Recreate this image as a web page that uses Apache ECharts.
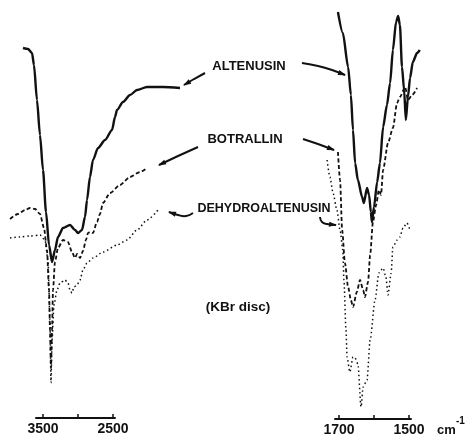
<!DOCTYPE html>
<html>
<head>
<meta charset="utf-8">
<script src="https://cdn.jsdelivr.net/npm/echarts@6/dist/echarts.min.js"></script>
<style>
html,body{margin:0;padding:0;background:#fff;}
#chart{width:466px;height:437px;}
</style>
</head>
<body>
<div id="chart"></div>
<script>
// ---- data: [wavenumber (cm-1, on drawn axis scale), relative transmittance] ----
const altenusinLeft = [[3786,92.5],[3714,92.25],[3657,91.25],[3629,88.25],[3586,79.5],[3543,70.75],[3500,62],[3457,51.5],[3414,43.25],[3371,39],[3329,42],[3286,45.25],[3214,47.5],[3114,48.25],[3043,47],[3000,46.25],[2943,47],[2900,50.25],[2871,54.5],[2829,60.25],[2786,64.5],[2714,67.5],[2614,69.5],[2514,72],[2471,75.25],[2443,77],[2357,79],[2257,80.75],[2157,82],[2014,82.75],[1786,82.75],[1543,82.5]];
const botrallinLeft = [[3971,49.75],[3857,51],[3757,52],[3686,52.5],[3614,52.25],[3543,51],[3486,47.5],[3443,42],[3414,32],[3400,22],[3386,12.5],[3371,22],[3357,32],[3329,39],[3286,42.5],[3214,44.5],[3143,44],[3086,41.5],[3043,40],[3014,41],[2971,40],[2929,41.75],[2886,44.5],[2857,46.25],[2829,46.5],[2786,46.25],[2729,49],[2686,51],[2643,53.75],[2543,56.25],[2400,58.25],[2257,60.25],[2114,61.5],[2014,62.5]];
const dehydroLeft = [[3971,45],[3829,45.25],[3686,45.5],[3543,45.75],[3471,44.5],[3429,39.5],[3400,24.5],[3386,8.75],[3371,19.5],[3343,28.25],[3300,32],[3257,33.75],[3186,34.5],[3143,33.75],[3114,32],[3086,31.25],[3057,32.75],[3014,33.25],[2971,34.5],[2929,37],[2871,38.75],[2786,40],[2643,41.5],[2443,43.25],[2300,44.5],[2157,47],[2014,49.5],[1857,52]];

const altenusinRight = [[1703,102],[1689,96.75],[1674,88.25],[1666,81.25],[1660,72.5],[1654,64.25],[1646,60],[1634,55.75],[1629,54.25],[1620,58],[1614,56.25],[1609,52],[1606,49.5],[1600,53.25],[1591,59.5],[1583,64.25],[1574,73.25],[1563,78.75],[1554,84.25],[1546,92.5],[1537,99.5],[1531,101],[1526,98.75],[1520,88.25],[1514,82.5],[1509,75],[1503,80.75],[1497,85.5],[1489,89.5],[1477,91.75],[1469,92.5]];
const botrallinRight = [[1703,67],[1697,60],[1691,47.5],[1683,39.25],[1674,33.25],[1666,30],[1660,28.25],[1649,32],[1640,35],[1631,32.5],[1626,30.75],[1617,34.5],[1611,41.25],[1603,49.5],[1594,53.75],[1586,57.5],[1580,56.25],[1574,62.5],[1560,69.25],[1546,73],[1534,79.25],[1526,80.75],[1511,83.25],[1503,80],[1491,81.25],[1477,83]];
const dehydroRight = [[1734,65],[1726,60.75],[1717,56.75],[1706,52.5],[1697,47.5],[1689,42.5],[1686,35],[1680,22.5],[1677,15.75],[1669,12],[1660,15.75],[1654,15.5],[1646,14],[1637,3.25],[1631,8.25],[1620,10],[1611,20],[1597,30],[1586,36.75],[1574,38],[1566,35.75],[1560,31.25],[1551,36.75],[1546,43.25],[1534,45],[1526,45.75],[1517,48],[1506,49.25],[1497,47.5]];

const leftTicks = [3500, 3000, 2500];
const leftLabels = [3500, 2500];
const rightTicks = [1700, 1600, 1500];
const rightLabels = [1700, 1500];

const compoundNames = ['ALTENUSIN', 'BOTRALLIN', 'DEHYDROALTENUSIN'];
const noteText = '(KBr disc)';
const unitText = 'cm';
const unitSup = '-1';

// ---- chart ----
const chart = echarts.init(document.getElementById('chart'), null, {renderer: 'canvas'});
const INK = '#111';
const FONT = '"Liberation Sans", Arial, sans-serif';

// scales: left panel 70 px per 1000 cm-1 (3500 at x=43), right panel 35 px per 100 cm-1 (1700 at x=339)
const LS = 1000 / 70, RS = 100 / 35;

function hiddenX(gi, min, max) {
  return {type: 'value', gridIndex: gi, inverse: true, min: min, max: max, show: false, splitLine: {show: false}};
}
function shownX(gi, min, max, ticks, labels) {
  return {
    type: 'value', gridIndex: gi, inverse: true, min: min, max: max,
    axisLine: {show: true, lineStyle: {color: INK, width: 2}},
    axisTick: {show: true, inside: true, length: 4, lineStyle: {color: INK, width: 1.5}, customValues: ticks},
    axisLabel: {show: true, margin: 4, color: INK, fontSize: 14, fontWeight: 'bold', fontFamily: FONT,
      customValues: labels, formatter: function (v) { return String(Math.round(v)); }},
    splitLine: {show: false}
  };
}
function yAxisDef(gi) {
  return {type: 'value', gridIndex: gi, min: 0, max: 104, show: false, splitLine: {show: false}};
}
const styles = {
  solid: {color: INK, width: 2.4, type: 'solid'},
  dashed: {color: INK, width: 1.8, type: [4, 2.5]},
  dotted: {color: INK, width: 1.5, type: [1.5, 2.8]}
};
function ser(name, data, gi, st) {
  return {
    name: name, type: 'line', data: data, xAxisIndex: gi, yAxisIndex: gi,
    showSymbol: false, clip: false, smooth: 0.25, smoothMonotone: 'x',
    lineStyle: st, silent: true, animation: false
  };
}

function arrow(shaft, smooth) {
  const n = shaft.length;
  const tip = shaft[n - 1], prev = shaft[n - 2];
  let dx = tip[0] - prev[0], dy = tip[1] - prev[1];
  const len = Math.sqrt(dx * dx + dy * dy); dx /= len; dy /= len;
  const L = 7, W = 2.6;
  const bx = tip[0] - dx * L, by = tip[1] - dy * L;
  const head = [[tip[0] + dx * 1, tip[1] + dy * 1], [bx - dy * W, by + dx * W], [bx + dy * W, by - dx * W]];
  return [
    {type: 'polyline', shape: {points: shaft, smooth: smooth || 0}, style: {stroke: INK, lineWidth: 2, fill: null}, silent: true},
    {type: 'polygon', shape: {points: head}, style: {fill: INK}, silent: true}
  ];
}
function label(text, x, y, size) {
  return {type: 'text', x: x, y: y, silent: true,
    style: {text: text, fill: INK, font: 'bold ' + size + 'px ' + FONT, align: 'center', verticalAlign: 'middle'}};
}

const graphics = [].concat(
  label(compoundNames[0], 249, 66, 13),
  label(compoundNames[1], 245, 139, 13),
  label(compoundNames[2], 264, 209, 12.5),
  label(noteText, 238, 307, 13.5),
  [{type: 'text', x: 437, y: 430, silent: true, style: {text: unitText, fill: INK, font: 'bold 13px ' + FONT, align: 'left', verticalAlign: 'middle'}},
   {type: 'text', x: 456, y: 421, silent: true, style: {text: unitSup, fill: INK, font: 'bold 10px ' + FONT, align: 'left', verticalAlign: 'middle'}}],
  arrow([[205, 73], [194, 79], [184, 85]]),
  arrow([[302, 63], [318, 66], [332, 70], [345, 75]], 0.4),
  arrow([[198, 147], [178, 156], [159, 165]]),
  arrow([[303, 139], [318, 144], [334, 150]]),
  arrow([[193, 213], [186, 216], [178, 215], [169, 212]], 0.5),
  arrow([[320, 217], [322, 222], [327, 224], [336, 225]], 0.5)
);

chart.setOption({
  animation: false,
  backgroundColor: '#fff',
  grid: [
    // data grids (wide, hidden axes)
    {left: 0, top: 2, width: 200, height: 416},
    {left: 310, top: 4, width: 130, height: 416},
    // axis grids (only the drawn axis segment)
    {left: 36, top: 2, width: 79, height: 416},
    {left: 335, top: 4, width: 76, height: 416}
  ],
  xAxis: [
    hiddenX(0, 3500 - 157 * LS, 3500 + 43 * LS),
    hiddenX(1, 1700 - 101 * RS, 1700 + 29 * RS),
    shownX(2, 2500 - 2 * LS, 3500 + 7 * LS, leftTicks, leftLabels),
    shownX(3, 1500 - 2 * RS, 1700 + 4 * RS, rightTicks, rightLabels)
  ],
  yAxis: [yAxisDef(0), yAxisDef(1), yAxisDef(2), yAxisDef(3)],
  series: [
    ser(compoundNames[0], altenusinLeft, 0, styles.solid),
    ser(compoundNames[1], botrallinLeft, 0, styles.dashed),
    ser(compoundNames[2], dehydroLeft, 0, styles.dotted),
    ser(compoundNames[0], altenusinRight, 1, styles.solid),
    ser(compoundNames[1], botrallinRight, 1, styles.dashed),
    ser(compoundNames[2], dehydroRight, 1, styles.dotted)
  ],
  graphic: graphics
});
</script>
</body>
</html>
